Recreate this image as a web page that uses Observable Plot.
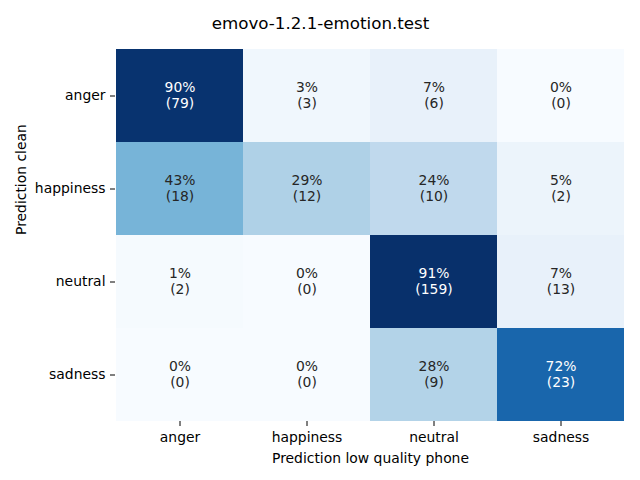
<!DOCTYPE html>
<html>
<head>
<meta charset="utf-8">
<script src="https://cdn.jsdelivr.net/npm/d3@7"></script>
<script src="https://cdn.jsdelivr.net/npm/@observablehq/plot@0.6"></script>
<style>
  html, body { margin: 0; padding: 0; background: #fff; }
  svg { font-family: "DejaVu Sans", sans-serif; }
</style>
</head>
<body>
<div id="chart"></div>
<script>
const title = "emovo-1.2.1-emotion.test";
const xLabel = "Prediction low quality phone";
const yLabel = "Prediction clean";
const categories = ["anger", "happiness", "neutral", "sadness"];
// rows = clean prediction, columns = low quality phone prediction
const percentRows = [
  [90, 3, 7, 0],
  [43, 29, 24, 5],
  [1, 0, 91, 7],
  [0, 0, 28, 72]
];
const countRows = [
  [79, 3, 6, 0],
  [18, 12, 10, 2],
  [2, 0, 159, 13],
  [0, 0, 9, 23]
];

const cells = [];
categories.forEach((r, i) => categories.forEach((c, j) => {
  cells.push({row: r, col: c, pct: percentRows[i][j], n: countRows[i][j],
    label: `${percentRows[i][j]}%\n(${countRows[i][j]})`});
}));

const fs = 13.9;
const chart = Plot.plot({
  width: 640,
  height: 480,
  marginLeft: 115,
  marginRight: 15,
  marginTop: 48,
  marginBottom: 59,
  style: {fontSize: fs + "px", fontFamily: "DejaVu Sans, sans-serif", color: "#000", background: "#fff"},
  x: {domain: categories, padding: 0, label: null, tickSize: 5, tickPadding: 6},
  y: {domain: categories, padding: 0, label: null, tickSize: 5, tickPadding: 5},
  color: {type: "linear", scheme: "blues", domain: [0, 91]},
  marks: [
    Plot.cell(cells, {x: "col", y: "row", fill: "pct"}),
    Plot.text(cells, {x: "col", y: "row", text: "label", lineHeight: 1.15, fontSize: fs, dy: -1,
      fill: d => d.pct >= 60 ? "#ffffff" : "#262626"}),
    Plot.text([title], {frameAnchor: "top", dx: -50, dy: -31, fontSize: 16.7, fill: "#000"}),
    Plot.text([xLabel], {frameAnchor: "bottom", dy: 41, fontSize: fs, fill: "#000"}),
    Plot.text([yLabel], {frameAnchor: "left", dx: -94, rotate: -90, fontSize: fs, fill: "#000"})
  ]
});
document.getElementById("chart").appendChild(chart);
</script>
</body>
</html>
